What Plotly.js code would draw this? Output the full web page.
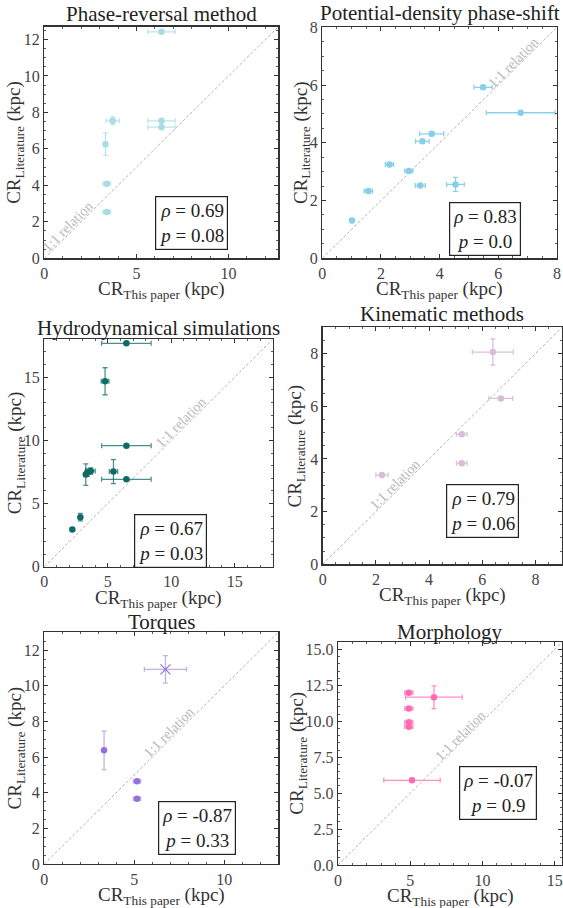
<!DOCTYPE html>
<html>
<head>
<meta charset="utf-8">
<script src="https://cdn.plot.ly/plotly-3.0.1.min.js"></script>
<style>
  html, body { margin: 0; padding: 0; background: #fff; }
  #chart { width: 563px; height: 908px; }
</style>
</head>
<body>
<div id="chart"></div>
<script>
// Corotation radii: this paper (x) vs. literature (y), grouped by method (kpc)

// Phase-reversal method
const phaseX    = [6.36, 3.71, 6.36, 6.36, 3.32, 3.39, 3.39];
const phaseY    = [12.42, 7.54, 7.54, 7.19, 6.26, 4.09, 2.54];
const phaseXErr = [0.74, 0.36, 0.74, 0.74, 0.10, 0.20, 0.20];
const phaseYErr = [0.10, 0.22, 0.10, 0.10, 0.62, 0.05, 0.05];

// Potential-density phase-shift
const pdpsX    = [1.01, 1.57, 2.29, 2.95, 3.41, 3.73, 3.34, 4.54, 5.48, 6.76];
const pdpsY    = [1.31, 2.33, 3.25, 3.02, 4.05, 4.31, 2.52, 2.56, 5.92, 5.04];
const pdpsXErr = [0.05, 0.14, 0.14, 0.14, 0.23, 0.41, 0.17, 0.30, 0.31, 1.17];
const pdpsYErr = [0.03, 0.05, 0.05, 0.05, 0.05, 0.06, 0.05, 0.24, 0.05, 0.03];

// Hydrodynamical simulations
const hydroX    = [2.21, 2.84, 3.27, 3.40, 3.66, 5.45, 4.79, 6.47, 6.47, 6.47];
const hydroY    = [2.95, 3.92, 7.29, 7.45, 7.58, 7.53, 14.68, 17.68, 9.58, 6.92];
const hydroXErr = [0.10, 0.10, 0.15, 0.20, 0.35, 0.33, 0.30, 1.95, 1.95, 1.95];
const hydroYErr = [0.15, 0.30, 0.85, 0.30, 0.25, 0.95, 1.07, 0.05, 0.05, 0.05];

// Kinematic methods
const kinX    = [2.23, 5.23, 5.23, 6.70, 6.40];
const kinY    = [3.39, 3.84, 4.94, 6.30, 8.06];
const kinXErr = [0.23, 0.20, 0.20, 0.45, 0.77];
const kinYErr = [0.05, 0.05, 0.05, 0.05, 0.50];

// Torques (circles) plus one cross-marked galaxy
const torqX    = [3.32, 5.15, 5.15];
const torqY    = [6.38, 4.64, 3.66];
const torqXErr = [0.05, 0.20, 0.20];
const torqYErr = [1.08, 0.05, 0.05];
const torqCrossX = [6.73];
const torqCrossY = [10.92];
const torqCrossXErr = [1.17];
const torqCrossYErr = [0.77];

// Morphology
const morphX    = [4.90, 4.90, 4.90, 4.90, 6.64, 5.12];
const morphY    = [11.98, 10.89, 9.94, 9.62, 11.68, 5.89];
const morphXErr = [0.28, 0.28, 0.28, 0.28, 1.96, 1.95];
const morphYErr = [0.10, 0.10, 0.10, 0.10, 0.79, 0.10];

// Spearman statistics per method
const panelTitles = ["Phase-reversal method", "Potential-density phase-shift",
                     "Hydrodynamical simulations", "Kinematic methods",
                     "Torques", "Morphology"];
const rhoValues = ["0.69", "0.83", "0.67", "0.79", "-0.87", "-0.07"];
const pValues   = ["0.08", "0.0", "0.03", "0.06", "0.33", "0.9"];

// Axis limits and label position of the 1:1 guide
const axisMax   = [12.7, 8, 18, 9, 13, 15.5];
const guideAt   = [1.5, 6.65, 11.07, 2.87, 7.14, 8.75];

const W = 563, H = 908;
const SERIF = "'Liberation Serif', 'DejaVu Serif', serif";

// Pixel frames of each subplot [left, right, top, bottom]
const frames = [
  [44.3, 278.3, 26.7, 258.3],
  [322.3, 557.0, 27.3, 258.3],
  [44.3, 272.7, 339.3, 566.7],
  [322.7, 562.0, 327.3, 564.3],
  [44.3, 278.3, 632.3, 864.0],
  [338.0, 562.0, 642.3, 865.0]
];
const majorDx = [5, 2, 5, 2, 5, 5];
const majorDy = [2, 2, 5, 2, 2, 2.5];
const minorDx = [1, 0.5, 1, 0.5, 1, 1];
const minorDy = [0.5, 0.5, 1, 0.5, 0.5, 0.5];
const statPos = [[0.628, 0.152], [0.692, 0.128], [0.554, 0.114],
                 [0.667, 0.226], [0.652, 0.156], [0.713, 0.322]];
const titleShift = [13, 14, 11, 13, 10, 10];
const yTitleOff  = [29, 21, 28, 27, 28, 40];

const colors = ["#a6dce4", "#87ceeb", "#0e6b66", "#d8bcd8", "#9370db", "#ff69b4"];
const barColors = ["rgba(176,224,230,0.85)", "rgba(135,206,235,0.95)",
                   "rgba(14,107,102,0.75)", "rgba(216,191,216,0.95)",
                   "rgba(147,112,219,0.55)", "rgba(255,105,180,0.75)"];

const groups = [
  [phaseX, phaseY, phaseXErr, phaseYErr],
  [pdpsX, pdpsY, pdpsXErr, pdpsYErr],
  [hydroX, hydroY, hydroXErr, hydroYErr],
  [kinX, kinY, kinXErr, kinYErr],
  [torqX, torqY, torqXErr, torqYErr],
  [morphX, morphY, morphXErr, morphYErr]
];

const traces = [];
const annotations = [];
const layout = {
  width: W, height: H,
  margin: {l: 0, r: 0, t: 0, b: 0},
  paper_bgcolor: "#fff", plot_bgcolor: "#fff",
  showlegend: false,
  font: {family: SERIF, color: "#333"}
};

groups.forEach((g, i) => {
  const n = i + 1;
  const xa = "x" + (n === 1 ? "" : n), ya = "y" + (n === 1 ? "" : n);
  const xKey = "xaxis" + (n === 1 ? "" : n), yKey = "yaxis" + (n === 1 ? "" : n);
  const [l, r, t, b] = frames[i];

  const common = {
    showgrid: false, zeroline: false, showline: true, linecolor: "#333",
    linewidth: 1.3, mirror: "allticks", ticks: "inside", ticklen: 4,
    tickwidth: 1, tickcolor: "#333",
    tickfont: {family: SERIF, size: 16, color: "#444"},
    minor: {ticks: "inside", ticklen: 2, tickwidth: 0.8, tickcolor: "#333"}
  };
  layout[xKey] = Object.assign({}, common, {
    domain: [l / W, r / W], anchor: ya, range: [0, axisMax[i]],
    tickmode: "linear", tick0: 0, dtick: majorDx[i],
    minor: Object.assign({}, common.minor, {dtick: minorDx[i]})
  });
  layout[yKey] = Object.assign({}, common, {
    domain: [1 - b / H, 1 - t / H], anchor: xa, range: [0, axisMax[i]],
    tickmode: "linear", tick0: 0, dtick: majorDy[i],
    minor: Object.assign({}, common.minor, {dtick: minorDy[i]}),
    tickformat: i === 5 ? ".1f" : ""
  });

  // 1:1 relation guide
  traces.push({
    type: "scatter", mode: "lines", xaxis: xa, yaxis: ya,
    x: [0, axisMax[i]], y: [0, axisMax[i]],
    line: {color: "#b4b4b4", width: 1, dash: "3px,2px"}, hoverinfo: "skip"
  });

  traces.push({
    type: "scatter", mode: "markers", xaxis: xa, yaxis: ya,
    x: g[0], y: g[1],
    error_x: {type: "data", array: g[2], visible: true, color: barColors[i], thickness: 1.3, width: 2.5},
    error_y: {type: "data", array: g[3], visible: true, color: barColors[i], thickness: 1.3, width: 2.5},
    marker: {color: colors[i], size: 6.5, line: {width: 0}}
  });

  if (i === 4) {
    traces.push({
      type: "scatter", mode: "markers", xaxis: xa, yaxis: ya,
      x: torqCrossX, y: torqCrossY,
      error_x: {type: "data", array: torqCrossXErr, visible: true, color: barColors[i], thickness: 1.3, width: 2.5},
      error_y: {type: "data", array: torqCrossYErr, visible: true, color: barColors[i], thickness: 1.3, width: 2.5},
      marker: {symbol: "x-thin-open", color: colors[i], size: 10, line: {width: 1.2, color: colors[i]}}
    });
  }

  // Panel title
  annotations.push({
    xref: xa + " domain", yref: ya + " domain", x: 0.5, y: 1,
    xanchor: "center", yanchor: "middle", yshift: titleShift[i],
    text: panelTitles[i], showarrow: false,
    font: {family: SERIF, size: 21, color: "#222"}
  });
  // Axis titles
  annotations.push({
    xref: xa + " domain", yref: ya + " domain", x: 0.5, y: 0,
    xanchor: "center", yanchor: "middle", yshift: -32,
    text: "CR<sub>This paper</sub> (kpc)", showarrow: false,
    font: {family: SERIF, size: 19, color: "#333"}
  });
  annotations.push({
    xref: xa + " domain", yref: ya + " domain", x: 0, y: 0.5,
    xanchor: "center", yanchor: "middle", xshift: -yTitleOff[i],
    textangle: -90,
    text: "CR<sub>Literature</sub> (kpc)", showarrow: false,
    font: {family: SERIF, size: 19, color: "#333"}
  });
  // 1:1 label
  annotations.push({
    xref: xa, yref: ya, x: guideAt[i], y: guideAt[i],
    xanchor: "center", yanchor: "middle", xshift: -4, yshift: 4,
    textangle: -45, text: "1:1 relation", showarrow: false,
    font: {family: SERIF, size: 14, color: "#b8b8b8"}
  });
  // Statistics box
  annotations.push({
    xref: xa + " domain", yref: ya + " domain",
    x: statPos[i][0], y: statPos[i][1],
    xanchor: "center", yanchor: "middle",
    text: "<i>ρ</i> = " + rhoValues[i] + "<br><i>p</i> = " + pValues[i],
    showarrow: false, align: "center",
    bordercolor: "#222", borderwidth: 1.2, borderpad: 3, bgcolor: "#fff",
    font: {family: SERIF, size: 19, color: "#222"}
  });
});

layout.annotations = annotations;
Plotly.newPlot("chart", traces, layout, {displayModeBar: false, staticPlot: true});
</script>
</body>
</html>
